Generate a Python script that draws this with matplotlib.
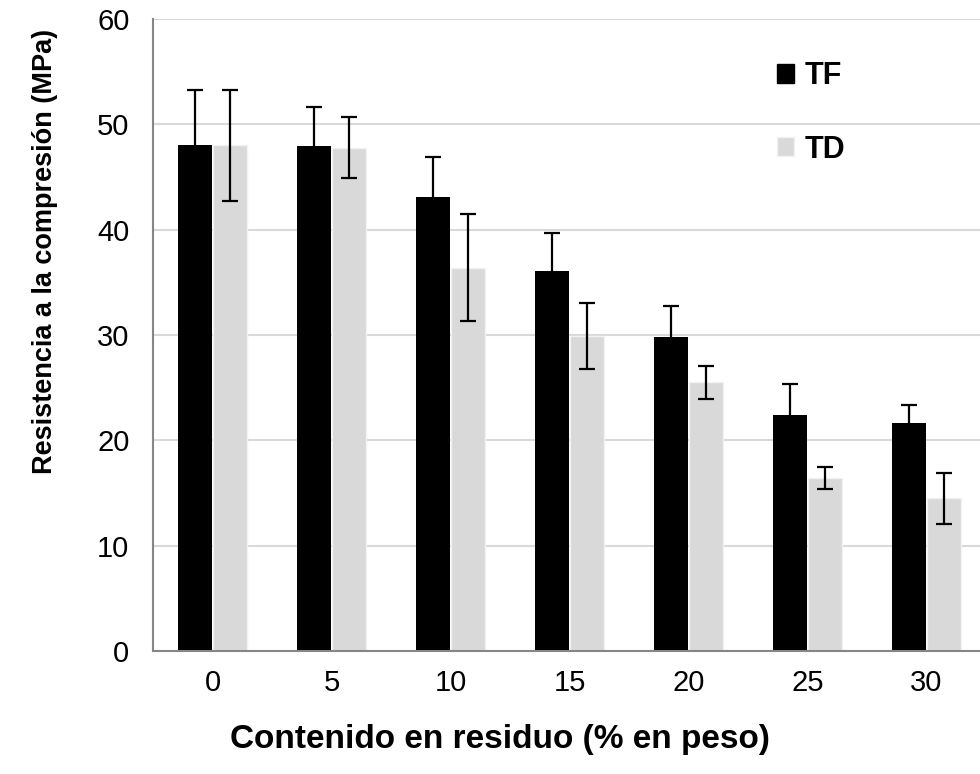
import matplotlib
matplotlib.use("Agg")
import matplotlib.pyplot as plt
import numpy as np
from matplotlib.patches import Patch

plt.rcParams['font.family'] = ['Liberation Sans', 'DejaVu Sans']

categories = ["0", "5", "10", "15", "20", "25", "30"]
tf_values = [48.0, 47.9, 43.1, 36.1, 29.8, 22.4, 21.6]
tf_errors = [5.3, 3.7, 3.8, 3.55, 3.0, 2.95, 1.8]
td_values = [48.0, 47.8, 36.4, 29.9, 25.5, 16.4, 14.5]
td_errors = [5.3, 2.85, 5.1, 3.15, 1.6, 1.05, 2.4]
y_ticks = [0, 10, 20, 30, 40, 50, 60]

fig = plt.figure(figsize=(9.8, 7.74), dpi=100)
ax = fig.add_axes([153 / 980, 123 / 774, 827 / 980, 632 / 774])

x = np.arange(len(categories))
w = 0.285
off = 0.149

ax.bar(x - off, tf_values, w, color="black", zorder=2)
ax.bar(x + off, td_values, w, color="#d9d9d9", edgecolor="#f2f2f2",
       linewidth=1.0, zorder=2)
ax.errorbar(x - off, tf_values, yerr=tf_errors, fmt="none", ecolor="black",
            elinewidth=1.6, capsize=6, capthick=1.6, zorder=3)
ax.errorbar(x + off, td_values, yerr=td_errors, fmt="none", ecolor="black",
            elinewidth=1.6, capsize=6, capthick=1.6, zorder=3)

ax.set_xlim(-0.5, 6.5 - 6 / 119)
ax.set_ylim(0, 60)
ax.set_yticks(y_ticks)
ax.set_xticks(x)
ax.set_xticklabels(categories)
ax.yaxis.grid(True, color="#d9d9d9", linewidth=1.5, zorder=0)
ax.set_axisbelow(True)

for s in ["top", "right"]:
    ax.spines[s].set_visible(False)
for s in ["left", "bottom"]:
    ax.spines[s].set_color("#868686")
    ax.spines[s].set_linewidth(1.5)

ax.tick_params(axis="both", length=0, labelsize=21, colors="black")
ax.tick_params(axis="y", pad=17)
ax.tick_params(axis="x", pad=13)

ax.set_ylabel("Resistencia a la compresión (MPa)", fontsize=19.5,
              fontweight="bold")
ax.set_xlabel("Contenido en residuo (% en peso)", fontsize=24,
              fontweight="bold")
ax.yaxis.set_label_coords(-95 / 827, (651 - 251) / 632)
ax.xaxis.set_label_coords((500 - 153) / 827, -(724 - 651) / 632)

handles = [Patch(facecolor="black", edgecolor="black"),
           Patch(facecolor="#d9d9d9", edgecolor="#f2f2f2")]
ax.legend(handles, ["TF", "TD"], loc="upper left",
          bbox_to_anchor=(618 / 827, 1 - 36 / 632), frameon=False,
          prop={"weight": "bold", "size": 22}, handlelength=0.55,
          handleheight=0.55, handletextpad=0.35, labelspacing=1.42,
          borderpad=0.2, borderaxespad=0)

fig.savefig("out.png", dpi=100)
